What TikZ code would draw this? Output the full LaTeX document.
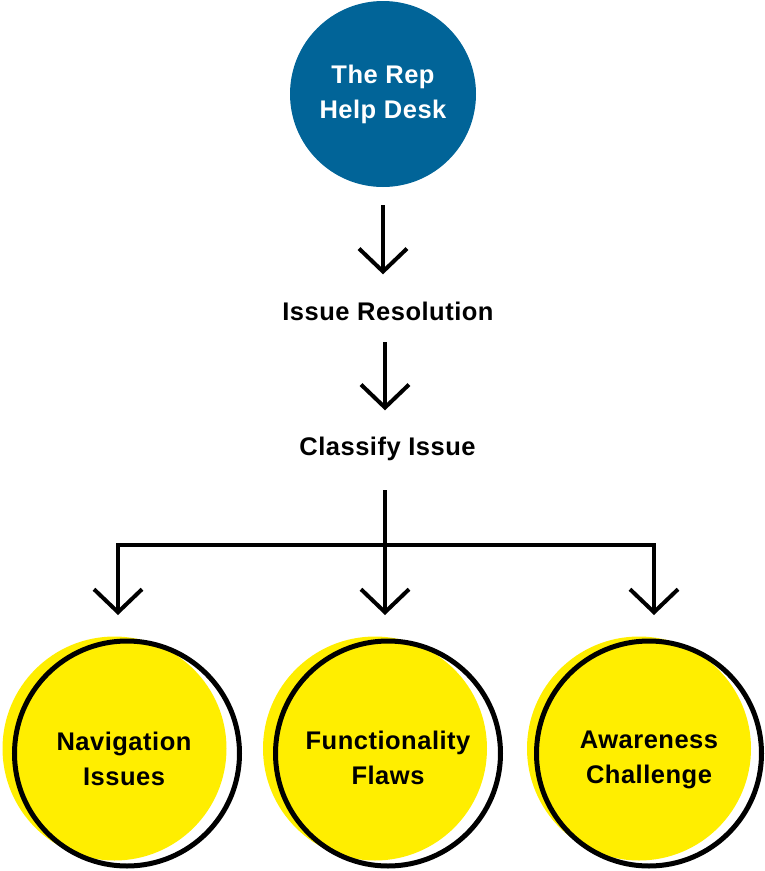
\documentclass[tikz,border=0pt]{standalone}
\usepackage{fontspec}
\setmainfont{Liberation Sans}[LetterSpace=2]
\usetikzlibrary{arrows.meta}
\definecolor{deskblue}{RGB}{1,100,152}
\definecolor{sunyellow}{RGB}{255,238,0}
\tikzset{
  x=1pt, y=1pt,
  lbl/.style={font=\bfseries\fontsize{25.5}{35}\selectfont, align=center, inner sep=0pt, text=black},
  wire/.style={line width=4pt, line join=miter, line cap=butt},
  arr/.style={wire, -{Straight Barb[length=23pt, width=48pt]}},
  disc/.style={circle, fill=sunyellow, minimum size=224pt, inner sep=0pt},
  ring/.style={circle, draw=black, line width=5pt, minimum size=225pt, inner sep=0pt},
  caption/.style={lbl, yshift=-4pt},
}
\begin{document}
\begin{tikzpicture}
\useasboundingbox (0,0) rectangle (765,-871);

% top circle
\node[circle, fill=deskblue, minimum size=186pt, inner sep=0pt, lbl, text=white]
  (desk) at (383,-94) {The Rep\\Help Desk};

% intermediate steps
\node[lbl, anchor=base] (res) at (388,-320) {Issue Resolution};
\node[lbl, anchor=base] (cls) at (387.5,-455) {Classify Issue};

% category circles: yellow disc behind, black ring on top
\node[disc] (navbg) at (114.5,-748.5) {};
\node[disc] (funbg) at (375,-748.5) {};
\node[disc] (awabg) at (639,-748.5) {};
\node[ring, label={[caption, xshift=-3pt, yshift=-1.5pt]center:Navigation\\Issues}] (nav) at (127,-753.5) {};
\node[ring, label={[caption]center:Functionality\\Flaws}] (fun) at (388,-753.5) {};
\node[ring, label={[caption, yshift=-2pt]center:Awareness\\Challenge}] (awa) at (649,-753.5) {};

% junction and arrow ends
\coordinate (hub) at (385,-545);
\coordinate (tipL) at (118,-615);
\coordinate (tipM) at (385,-615);
\coordinate (tipR) at (654,-615);

% connectors
\draw[arr] ([yshift=-18pt]desk.south) -- ([yshift=27pt]desk.south |- res.north);
\draw[arr] ([yshift=-22pt]res.south -| hub) -- ([yshift=26pt]cls.north -| hub);
\draw[arr] ([yshift=-30pt]cls.south -| hub) -- (tipM);
\draw[arr] (hub) -| (tipL);
\draw[arr] (hub) -| (tipR);
\end{tikzpicture}
\end{document}
